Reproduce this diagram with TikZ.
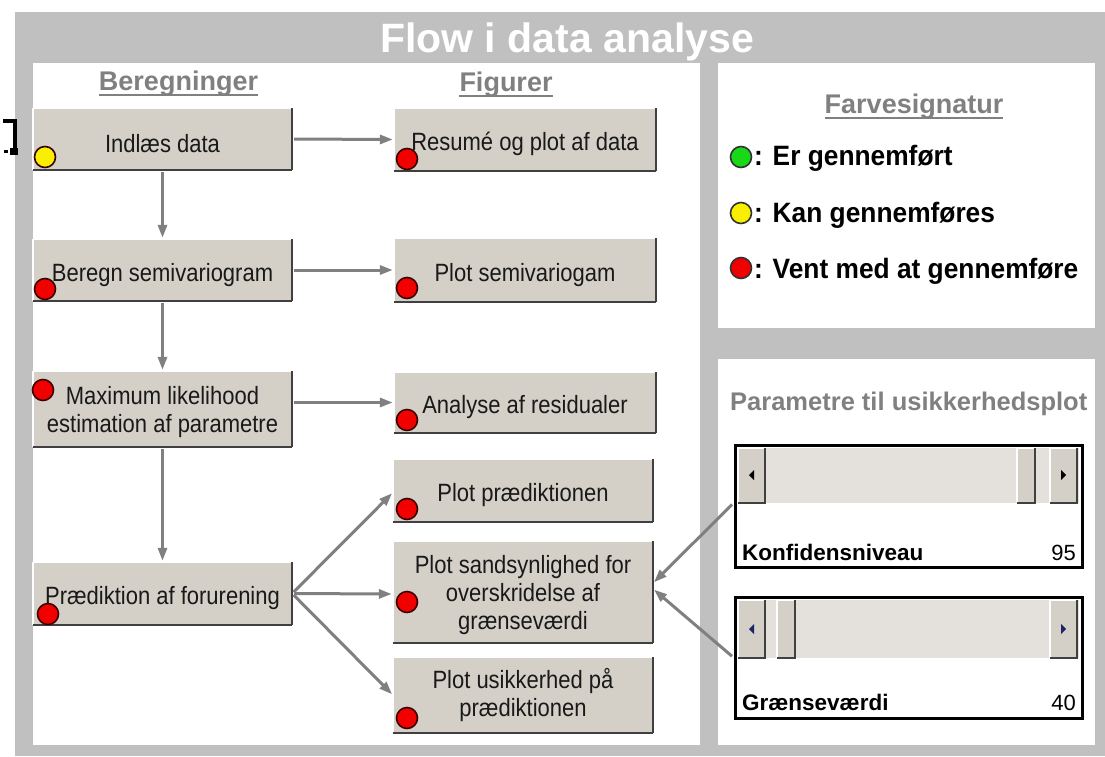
\documentclass[tikz,border=0pt]{standalone}
\usepackage{fontspec}
\setmainfont{Liberation Sans}
\newfontfamily\btnfont[FakeStretch=0.88]{Liberation Sans}
\newfontfamily\legfont[FakeStretch=0.94]{Liberation Sans}
\usetikzlibrary{arrows.meta}

\definecolor{bggray}{HTML}{C0C0C0}
\definecolor{btnface}{HTML}{D4D0C8}
\definecolor{btnshadow}{HTML}{404040}
\definecolor{hdrgray}{HTML}{808080}
\definecolor{conngray}{HTML}{808080}
\definecolor{trackgray}{HTML}{E4E1DC}
\definecolor{dotred}{HTML}{F20000}
\definecolor{dotyellow}{HTML}{F8F000}
\definecolor{dotgreen}{HTML}{18D818}
\definecolor{dotedge}{HTML}{3A0000}
\definecolor{arrowblue}{HTML}{1C2466}

% small 3D push button used inside the scroll bars
\newcommand\slidebtn[4]{%
  \fill[btnface] (#1,#2) rectangle (#3,#4);
  \draw[white,line width=1.2] (#1,#4) -- (#1,#2) -- (#3,#2);
  \draw[btnshadow,line width=1.6] (#1,#4) -- (#3,#4) -- (#3,#2);
}
% strut that lowers button captions slightly
\newcommand\capstrut{\rule{0pt}{28pt}}

\begin{document}
\begin{tikzpicture}[x=1pt,y=-1pt,
  btnhi/.style={draw=white,line width=1.5pt},
  btnlo/.style={draw=btnshadow,line width=2.5pt},
  btn/.style={rectangle,fill=btnface,inner sep=0pt,align=center,
    font=\btnfont\fontsize{25}{28}\selectfont,text=black!90,
    execute at begin node=\capstrut,
    append after command={
      (\tikzlastnode.north west) edge[btnhi] (\tikzlastnode.north east)
      (\tikzlastnode.north west) edge[btnhi] (\tikzlastnode.south west)
      (\tikzlastnode.south west) edge[btnlo] (\tikzlastnode.south east)
      (\tikzlastnode.south east) edge[btnlo] (\tikzlastnode.north east)}},
  lowered/.style={text depth=-5pt},
  lcol/.style={btn,minimum width=259},
  rcol/.style={btn,minimum width=262},
  dot/.style={circle,minimum size=21,inner sep=0pt,draw=dotedge,line width=1.6pt,fill=dotred},
  conn/.style={draw=conngray,line width=3pt,-{Triangle[length=13pt,width=9pt]},
    shorten <=2pt,shorten >=1pt},
  hdr/.style={font=\bfseries\fontsize{27}{32}\selectfont,text=hdrgray,inner sep=0pt,anchor=base},
  uline/.style={draw=hdrgray,line width=2pt},
  legend/.style={font=\legfont\bfseries\fontsize{28}{32}\selectfont,inner sep=0pt,anchor=base west},
  slbox/.style={rectangle,draw=black,line width=3pt,fill=white,minimum width=347,inner sep=0pt},
  sllabel/.style={font=\bfseries\fontsize{22.5}{26}\selectfont,inner sep=0pt,anchor=base west},
  slvalue/.style={font=\fontsize{22}{26}\selectfont,inner sep=0pt,anchor=base east}]

\useasboundingbox (0,0) rectangle (1105,756);

% frame and panels
\fill[bggray] (15,12) rectangle (1105,756);
\fill[white] (33,63) rectangle (700,745);
\fill[white] (718,63) rectangle (1095,328);
\fill[white] (718,359) rectangle (1095,745);

% stray bracket mark at the left edge
\fill[black] (3,119) rectangle (16,123);
\fill[black] (13,119) rectangle (17,150);
\fill[black] (10,148) rectangle (18,155);
\fill[black] (4,150) rectangle (8,153);

% title
\node[font=\bfseries\fontsize{41}{48}\selectfont,text=white,inner sep=0pt,anchor=base]
  (title) at (567,52) {Flow i data analyse};

% column headings
\node[hdr] (hber) at (178.5,90) {Beregninger};
\draw[uline] ([yshift=-5pt]hber.base west) -- ([yshift=-5pt]hber.base east);
\node[hdr] (hfig) at (506,91) {Figurer};
\draw[uline] ([yshift=-5pt]hfig.base west) -- ([yshift=-5pt]hfig.base east);

% calculation steps
\node[lcol,minimum height=62] (ind) at (162.5,139) {Indlæs data};
\node[lcol,minimum height=62] (ber) at (162.5,270) {Beregn semivariogram};
\node[lcol,lowered,minimum height=76] (mle) at (162.5,409) {Maximum likelihood\\estimation af parametre};
\node[lcol,minimum height=63] (pred) at (162.5,593.5) {Prædiktion af forurening};

% figure steps
\node[rcol,minimum height=63] (res) at (525,139.5) {Resumé og plot af data};
\node[rcol,minimum height=64] (psv) at (525,270) {Plot semivariogam};
\node[rcol,minimum height=61] (ana) at (525,402.5) {Analyse af residualer};
\node[btn,minimum width=260,minimum height=63] (ppr) at (523,490.5) {Plot prædiktionen};
\node[btn,lowered,minimum width=260,minimum height=102] (psa) at (523,592) {Plot sandsynlighed for\\overskridelse af\\grænseværdi};
\node[btn,minimum width=260,minimum height=76] (pus) at (523,695) {Plot usikkerhed på\\prædiktionen};

% flow connectors
\draw[conn] (ind.south) -- (ber.north);
\draw[conn] (ber.south) -- (mle.north);
\draw[conn] (mle.south) -- (pred.north);
\draw[conn] (ind.east) -- (res.west);
\draw[conn] (ber.east) -- (psv.west);
\draw[conn] (mle.east |- ana.west) -- (ana.west);
\draw[conn] (pred.east) -- ([yshift=-2pt]ppr.west);
\draw[conn] (pred.east) -- ([yshift=-2pt]psa.west);
\draw[conn] (pred.east) -- (pus.west);

% status lights on the buttons
\node[dot,fill=dotyellow] (d1) at (45,157) {};
\node[dot] (d2) at (45,289) {};
\node[dot] (d3) at (43,390) {};
\node[dot] (d4) at (48,614) {};
\node[dot] (d5) at (407,159) {};
\node[dot] (d6) at (407,288) {};
\node[dot] (d7) at (407,420) {};
\node[dot] (d8) at (407,509) {};
\node[dot] (d9) at (407,602) {};
\node[dot] (d10) at (407,718) {};

% colour legend
\node[font=\bfseries\fontsize{27}{32}\selectfont,text=hdrgray,inner sep=0pt,anchor=base]
  (hleg) at (914,113) {Farvesignatur};
\draw[uline] ([yshift=-5pt]hleg.base west) -- ([yshift=-5pt]hleg.base east);
\node[dot,fill=dotgreen,draw=black!80] (lg1) at (741,157) {};
\node[dot,fill=dotyellow,draw=black!80] (lg2) at (741,213) {};
\node[dot,draw=black!80] (lg3) at (741,268) {};
\node[legend] (t1) at (754,165) {: Er gennemført};
\node[legend] (t2) at (754,222) {: Kan gennemføres};
\node[legend] (t3) at (754,278) {: Vent med at gennemføre};

% uncertainty parameters
\node[font=\bfseries\fontsize{25.5}{30}\selectfont,text=hdrgray,inner sep=0pt,anchor=base west]
  (hpar) at (730,410) {Parametre til usikkerhedsplot};

\node[slbox,minimum height=122] (sl1) at (908.5,506) {};
\fill[trackgray] (738,448) rectangle (1079,503);
\slidebtn{738}{448}{765}{503}
\slidebtn{1017}{448}{1035}{503}
\slidebtn{1050}{448}{1077}{503}
\fill[black] (754,470) -- (754,480) -- (749,475) -- cycle;
\fill[black] (1061,470) -- (1061,480) -- (1066,475) -- cycle;
\node[sllabel] (k1) at (742,560) {Konfidensniveau};
\node[slvalue] (k2) at (1076,560) {95};

\node[slbox,minimum height=121] (sl2) at (908.5,657.5) {};
\fill[trackgray] (738,600) rectangle (1079,658);
\slidebtn{738}{600}{765}{658}
\slidebtn{777}{600}{795}{658}
\slidebtn{1050}{600}{1077}{658}
\fill[arrowblue] (754,624) -- (754,634) -- (749,629) -- cycle;
\fill[arrowblue] (1061,624) -- (1061,634) -- (1066,629) -- cycle;
\node[sllabel] (g1) at (742,710) {Grænseværdi};
\node[slvalue] (g2) at (1076,710) {40};

\draw[conn] ([yshift=3pt]sl1.west) -- ([yshift=9pt]psa.east);
\draw[conn] (sl2.west) -- ([yshift=3pt]psa.east);

\end{tikzpicture}
\end{document}
